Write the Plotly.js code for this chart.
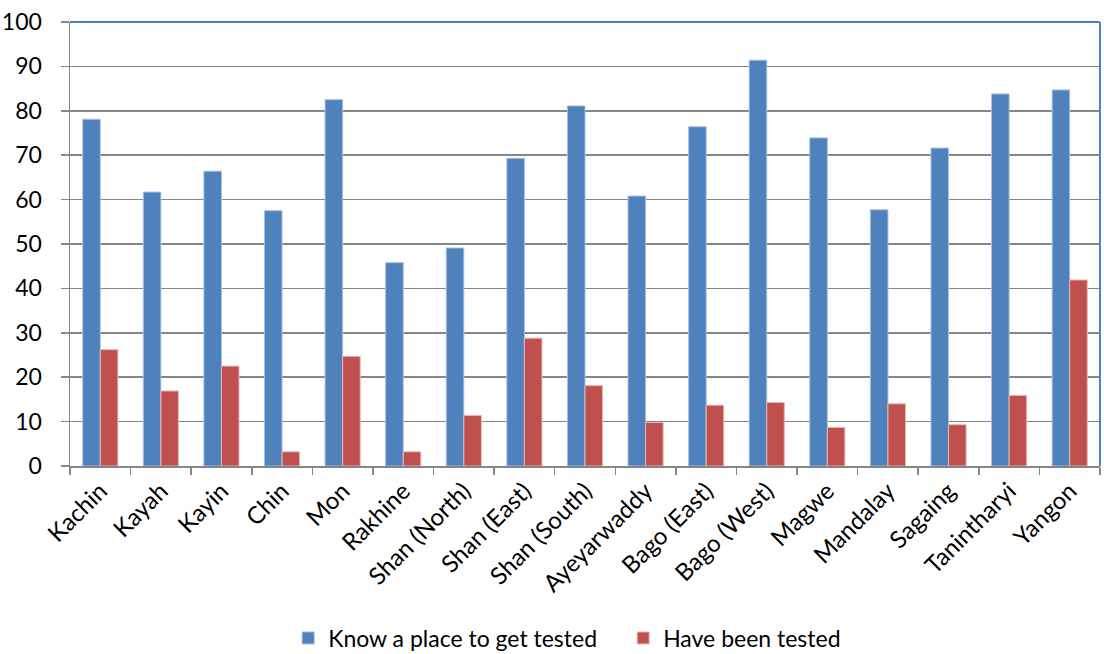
<!DOCTYPE html>
<html>
<head>
<meta charset="utf-8">
<script src="https://cdn.plot.ly/plotly-3.0.1.min.js"></script>
<style>html,body{margin:0;padding:0;background:#fff;}#chart{width:1104px;height:654px;}</style>
</head>
<body>
<div id="chart"></div>
<script>
const regions = ["Kachin","Kayah","Kayin","Chin","Mon","Rakhine","Shan (North)","Shan (East)","Shan (South)","Ayeyarwaddy","Bago (East)","Bago (West)","Magwe","Mandalay","Sagaing","Tanintharyi","Yangon"];
const knowPlace = [78.1,61.7,66.4,57.5,82.5,45.8,49.1,69.3,81.1,60.8,76.4,91.4,73.9,57.7,71.6,83.8,84.7];
const beenTested = [26.2,16.9,22.5,3.2,24.7,3.2,11.4,28.8,18.1,9.8,13.7,14.3,8.7,14.0,9.3,15.9,41.9];
const seriesNames = ["Know a place to get tested","Have been tested"];
const yTicks = [0,10,20,30,40,50,60,70,80,90,100];

const font = "Lato, 'Open Sans', sans-serif";
const data = [
  {type:"bar", name:seriesNames[0], x:regions, y:knowPlace,
   marker:{color:"#4F81BD", line:{color:"#A7BFDE", width:1}}},
  {type:"bar", name:seriesNames[1], x:regions, y:beenTested,
   marker:{color:"#C0504D", line:{color:"#E6B9B8", width:1}}}
];
const layout = {
  width:1104, height:654,
  margin:{l:70, r:4, t:22, b:188},
  paper_bgcolor:"#fff", plot_bgcolor:"#fff",
  font:{family:font, color:"#000", size:21},
  barmode:"group", bargap:0.42, bargroupgap:0,
  showlegend:true,
  legend:{orientation:"h", xref:"container", yref:"container",
          x:0.261, xanchor:"left", y:1-638/654, yanchor:"middle",
          entrywidth:290, entrywidthmode:"pixels",
          font:{size:23, family:font}, itemwidth:30, traceorder:"normal"},
  xaxis:{type:"category", tickangle:-45, ticks:"outside", tickson:"boundaries",
         ticklen:7, tickcolor:"#868686", tickwidth:1.5,
         showline:true, linecolor:"#868686", linewidth:1.5,
         showgrid:false, tickfont:{size:24, family:font}, automargin:false},
  yaxis:{range:[0,100], tickvals:yTicks, ticks:"outside", ticklen:8,
         tickcolor:"#868686", tickwidth:1.5, ticklabelstandoff:14,
         showline:true, linecolor:"#868686", linewidth:1.5,
         showgrid:true, gridcolor:"#868686", gridwidth:1.5, zeroline:false,
         tickfont:{size:23, family:font}, automargin:false},
  shapes:[
    {type:"line", xref:"paper", yref:"paper", x0:0, x1:1, y0:1, y1:1, line:{color:"#4F81BD", width:2}},
    {type:"line", xref:"paper", yref:"paper", x0:1, x1:1, y0:0, y1:1, line:{color:"#4F81BD", width:2}}
  ]
};
Plotly.newPlot("chart", data, layout, {displayModeBar:false, staticPlot:true});
</script>
</body>
</html>
